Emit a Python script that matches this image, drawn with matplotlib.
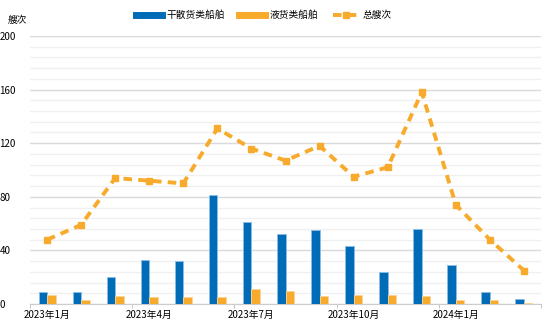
import numpy as np
import matplotlib
matplotlib.use('Agg')
import matplotlib.pyplot as plt
from matplotlib.lines import Line2D
from matplotlib.ticker import MultipleLocator

plt.rcParams['font.family'] = ['Noto Sans CJK SC', 'DejaVu Sans']

months = ['2023年1月', '2023年2月', '2023年3月', '2023年4月', '2023年5月',
          '2023年6月', '2023年7月', '2023年8月', '2023年9月', '2023年10月',
          '2023年11月', '2023年12月', '2024年1月', '2024年2月', '2024年3月']
dry_bulk = [9, 9, 20, 33, 32, 81, 61, 52, 55, 43, 24, 56, 29, 9, 4]
liquid = [7, 3, 6, 5, 5, 5, 11, 10, 6, 7, 7, 6, 3, 3, 1]
total = [48, 59, 94, 92, 90, 131, 116, 107, 118, 95, 102, 158, 74, 48, 25]

blue = '#006CB8'
orange = '#F7AA2C'

fig = plt.figure(figsize=(5.54, 3.31), dpi=100)
ax = fig.add_axes([30 / 554, 27 / 331, 511 / 554, 268 / 331])

x = np.arange(len(months))
w = 0.25
ax.bar(x - w / 2, dry_bulk, w, color=blue, edgecolor='#8DBDE6', linewidth=0.6, zorder=3)
ax.bar(x + w / 2, liquid, w, color=orange, edgecolor='#FBD596', linewidth=0.6, zorder=3)
ax.plot(x, total, color=orange, lw=2.8, ls=(0, (2.2, 1.6)), marker='s', ms=5,
        zorder=4)

ax.set_xlim(-0.5, len(months) - 0.5)
ax.set_ylim(0, 200)
ax.yaxis.set_major_locator(MultipleLocator(40))
ax.yaxis.set_minor_locator(MultipleLocator(8))
ax.grid(axis='y', which='major', color='#DADADA', lw=1, zorder=0)
ax.grid(axis='y', which='minor', color='#F0F0F0', lw=1, zorder=0)
ax.tick_params(axis='y', which='both', length=0, labelsize=7, pad=22)
for lbl in ax.get_yticklabels():
    lbl.set_horizontalalignment('left')

ax.set_xticks(x[::3])
ax.set_xticklabels(months[::3], fontsize=7)
ax.set_xticks(np.arange(-0.5, len(months), 3), minor=True)
ax.tick_params(axis='x', which='major', length=0, pad=4)
ax.tick_params(axis='x', which='minor', length=3, color='#BBBBBB')

for s in ['top', 'right', 'left']:
    ax.spines[s].set_visible(False)
ax.spines['bottom'].set_color('#CCCCCC')

fig.text(8 / 554, 1 - 20 / 331, '艘次', fontsize=7, va='center')

handles = [
    Line2D([], [], color=blue, lw=5),
    Line2D([], [], color=orange, lw=5),
    Line2D([], [], color=orange, lw=2.8, ls=(0, (2.2, 1.6)), marker='s', ms=5),
]
fig.legend(handles, ['干散货类船舶', '液货类船舶', '总艘次'], loc='center',
           bbox_to_anchor=(264 / 554, 1 - 15 / 331), ncol=3, frameon=False,
           fontsize=7, handlelength=2.7, columnspacing=1.5, handletextpad=0.4)

fig.savefig('out.png', dpi=100)
